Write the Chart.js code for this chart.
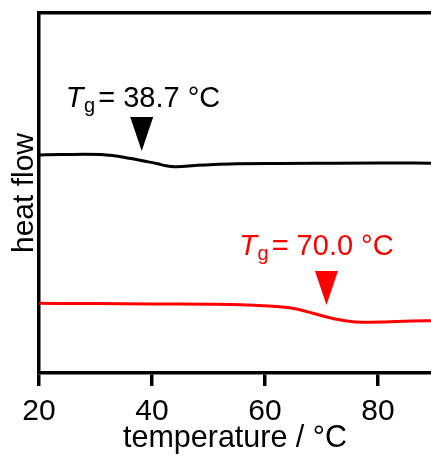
<!DOCTYPE html>
<html>
<head>
<meta charset="utf-8">
<script src="https://cdn.jsdelivr.net/npm/chart.js@4"></script>
<style>
  html, body { margin: 0; padding: 0; background: #fff; overflow: hidden; }
  #wrap { width: 431px; height: 457px; position: relative; }
</style>
</head>
<body>
<div id="wrap"><canvas id="dsc"></canvas></div>
<script>
// ===== DSC curves (heat flow in arbitrary units) =====
const blackT    = [20, 24, 28, 31, 33, 35, 37, 39, 41, 42.5, 44, 46, 48, 51, 55, 62, 70, 80, 90];
const blackFlow = [60.56, 60.69, 60.78, 60.67, 60.39, 59.94, 59.36, 58.75, 58.11, 57.56, 57.31, 57.44, 57.69, 57.94, 58.11, 58.22, 58.28, 58.33, 58.28];

const redT    = [20, 30, 40, 50, 54, 58, 62, 64, 66, 68.5, 71.5, 74.5, 77.3, 80.4, 83.4, 86, 90];
const redFlow = [19.36, 19.28, 19.17, 19.11, 19.06, 18.83, 18.5, 18.17, 17.64, 16.58, 15.36, 14.44, 14.11, 14.17, 14.33, 14.44, 14.53];

const xTicks = [20, 40, 60, 80];

// Tg markers: value shown, marker tip position, label anchor (data units)
const tgValues  = [38.7, 70.0];
const tgColors  = ['#000000', '#ff0000'];
const markerT   = [38.18, 70.88];
const markerV   = [61.67, 18.89];
const labelT    = [24.75, 55.45];
const labelV    = [73.97, 32.78];

const FONT = '"Liberation Sans", Arial, sans-serif';

const tgPlugin = {
  id: 'tgMarkers',
  afterDatasetsDraw(chart) {
    const {ctx, scales: {x, y}} = chart;
    ctx.save();
    tgValues.forEach((tg, i) => {
      ctx.fillStyle = tgColors[i];
      // down-pointing triangle
      const tx = x.getPixelForValue(markerT[i]);
      const ty = y.getPixelForValue(markerV[i]);
      ctx.beginPath();
      ctx.moveTo(tx, ty);
      ctx.lineTo(tx - 11.5, ty - 34);
      ctx.lineTo(tx + 11.5, ty - 34);
      ctx.closePath();
      ctx.fill();
      // label  T_g = xx.x °C
      let lx = x.getPixelForValue(labelT[i]);
      const ly = y.getPixelForValue(labelV[i]);
      ctx.textBaseline = 'alphabetic';
      ctx.textAlign = 'left';
      ctx.font = 'italic 29px ' + FONT;
      ctx.fillText('T', lx, ly);
      lx += ctx.measureText('T').width + 0.5;
      ctx.font = '20px ' + FONT;
      ctx.fillText('g', lx, ly + 5);
      lx += ctx.measureText('g').width + 3;
      ctx.font = '29px ' + FONT;
      ctx.fillText('= ' + tg.toFixed(1) + ' \u00B0C', lx, ly);
    });
    ctx.restore();
  }
};

new Chart(document.getElementById('dsc'), {
  type: 'line',
  data: {
    datasets: [
      {
        data: blackT.map((t, i) => ({x: t, y: blackFlow[i]})),
        borderColor: '#000000', borderWidth: 3,
        pointRadius: 0, cubicInterpolationMode: 'monotone'
      },
      {
        data: redT.map((t, i) => ({x: t, y: redFlow[i]})),
        borderColor: '#ff0000', borderWidth: 3,
        pointRadius: 0, cubicInterpolationMode: 'monotone'
      }
    ]
  },
  options: {
    responsive: true,
    maintainAspectRatio: false,
    animation: false,
    layout: { padding: 0 },
    plugins: { legend: { display: false }, tooltip: { enabled: false } },
    scales: {
      x: {
        type: 'linear', position: 'bottom',
        min: 20, max: 89.38,
        afterBuildTicks: s => { s.ticks = xTicks.map(v => ({value: v})); },
        afterFit: s => { s.height = 84; },
        ticks: { color: '#000', padding: 7.3, font: { family: FONT, size: 30 } },
        grid: { drawOnChartArea: false, drawTicks: true, tickLength: 13, lineWidth: 3.5, color: '#000' },
        border: { display: true, width: 3.5, color: '#000' },
        title: { display: true, text: 'temperature / \u00B0C', color: '#000',
                 font: { family: FONT, size: 30.5 }, padding: { top: 0, bottom: 0 } }
      },
      x2: {
        type: 'linear', position: 'top',
        afterFit: s => { s.height = 13; },
        ticks: { display: false },
        grid: { display: false },
        border: { display: true, width: 3.5, color: '#000' }
      },
      y: {
        type: 'linear', position: 'left',
        min: 0, max: 100,
        afterFit: s => { s.width = 39; },
        ticks: { display: false },
        grid: { display: false },
        border: { display: true, width: 3.5, color: '#000' },
        title: { display: true, text: 'heat flow', color: '#000',
                 font: { family: FONT, size: 30 }, padding: { top: 6.6, bottom: 0 } }
      }
    }
  },
  plugins: [tgPlugin]
});
</script>
</body>
</html>
